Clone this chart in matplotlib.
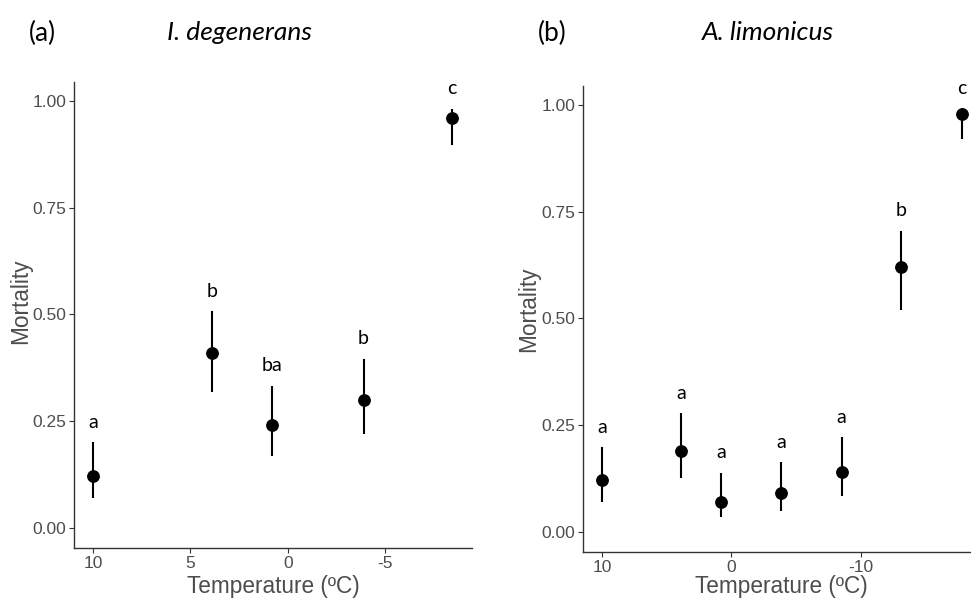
import matplotlib
matplotlib.use("Agg")
import matplotlib.pyplot as plt

plt.rcParams['axes.unicode_minus'] = False

# ---- data: panel (a) I. degenerans ----
temp_a = [10, 3.9, 0.8, -3.9, -8.45]
mort_a = [0.12, 0.41, 0.24, 0.30, 0.96]
low_a = [0.07, 0.318, 0.168, 0.219, 0.897]
high_a = [0.20, 0.507, 0.332, 0.396, 0.982]
grp_a = ["a", "b", "ba", "b", "c"]

# ---- data: panel (b) A. limonicus ----
temp_b = [10, 3.9, 0.8, -3.85, -8.5, -13.1, -17.8]
mort_b = [0.12, 0.19, 0.07, 0.09, 0.14, 0.62, 0.98]
low_b = [0.07, 0.125, 0.035, 0.047, 0.084, 0.52, 0.92]
high_b = [0.198, 0.277, 0.138, 0.163, 0.221, 0.705, 0.993]
grp_b = ["a", "a", "a", "a", "a", "b", "c"]

yticks = [0.00, 0.25, 0.50, 0.75, 1.00]
ytick_labels = ["0.00", "0.25", "0.50", "0.75", "1.00"]
xticks_a = [10, 5, 0, -5]
xtick_labels_a = ["10", "5", "0", "-5"]
xticks_b = [10, 0, -10]
xtick_labels_b = ["10", "0", "-10"]

W, H = 971, 607
fig = plt.figure(figsize=(W / 100, H / 100), dpi=100)

def px_axes(x0, x1, y0, y1):
    return fig.add_axes([x0 / W, 1 - y1 / H, (x1 - x0) / W, (y1 - y0) / H])

ax_a = px_axes(74, 472, 82, 548)
ax_b = px_axes(583, 971, 86, 552)

tick_col = "#4d4d4d"
lab_font = "Liberation Sans"
ann_font = "Lato"

def draw(ax, t, m, lo, hi, grp, xticks, xlabels, xlim):
    ax.vlines(t, lo, hi, color="black", lw=1.5, zorder=2)
    ax.plot(t, m, "o", color="black", ms=8.2, zorder=3)
    for xi, h, g in zip(t, hi, grp):
        ax.text(xi, h + 0.047, g, ha="center", va="center",
                fontsize=14, family=ann_font, color="black")
    ax.set_xlim(*xlim)
    ax.set_ylim(-0.048, 1.045)
    ax.set_yticks(yticks)
    ax.set_yticklabels(ytick_labels)
    ax.set_xticks(xticks)
    ax.set_xticklabels(xlabels)
    for s in ["top", "right"]:
        ax.spines[s].set_visible(False)
    for s in ["left", "bottom"]:
        ax.spines[s].set_color("#333333")
        ax.spines[s].set_linewidth(1.0)
    ax.tick_params(axis="both", direction="out", length=3.5, width=0.8,
                   color="#333333", labelcolor=tick_col, labelsize=12.5, pad=2)
    for lbl in ax.get_xticklabels() + ax.get_yticklabels():
        lbl.set_family(lab_font)
    ax.set_xlabel("Temperature (ºC)", fontsize=16.3, family=lab_font, color=tick_col)
    ax.set_ylabel("Mortality", fontsize=16.3, family=lab_font, color=tick_col)

draw(ax_a, temp_a, mort_a, low_a, high_a, grp_a, xticks_a, xtick_labels_a, (10.98, -9.47))
draw(ax_b, temp_b, mort_b, low_b, high_b, grp_b, xticks_b, xtick_labels_b, (11.47, -18.5))

ax_a.xaxis.set_label_coords(0.5, -0.082)
ax_a.xaxis.label.set_va("center")
ax_a.yaxis.set_label_coords(-0.133, 0.53)
ax_a.yaxis.label.set_va("center")
ax_b.xaxis.set_label_coords(0.51, -0.075)
ax_b.xaxis.label.set_va("center")
ax_b.yaxis.set_label_coords(-0.139, 0.52)
ax_b.yaxis.label.set_va("center")

fig.text(42 / W, 1 - 33 / H, "(a)", ha="center", va="center", fontsize=19, family=ann_font)
fig.text(239.5 / W, 1 - 33 / H, "I. degenerans", ha="center", va="center",
         fontsize=19, family=ann_font, style="italic")
fig.text(552 / W, 1 - 33 / H, "(b)", ha="center", va="center", fontsize=19, family=ann_font)
fig.text(767.5 / W, 1 - 33 / H, "A. limonicus", ha="center", va="center",
         fontsize=19, family=ann_font, style="italic")

fig.savefig("out.png", dpi=100)
